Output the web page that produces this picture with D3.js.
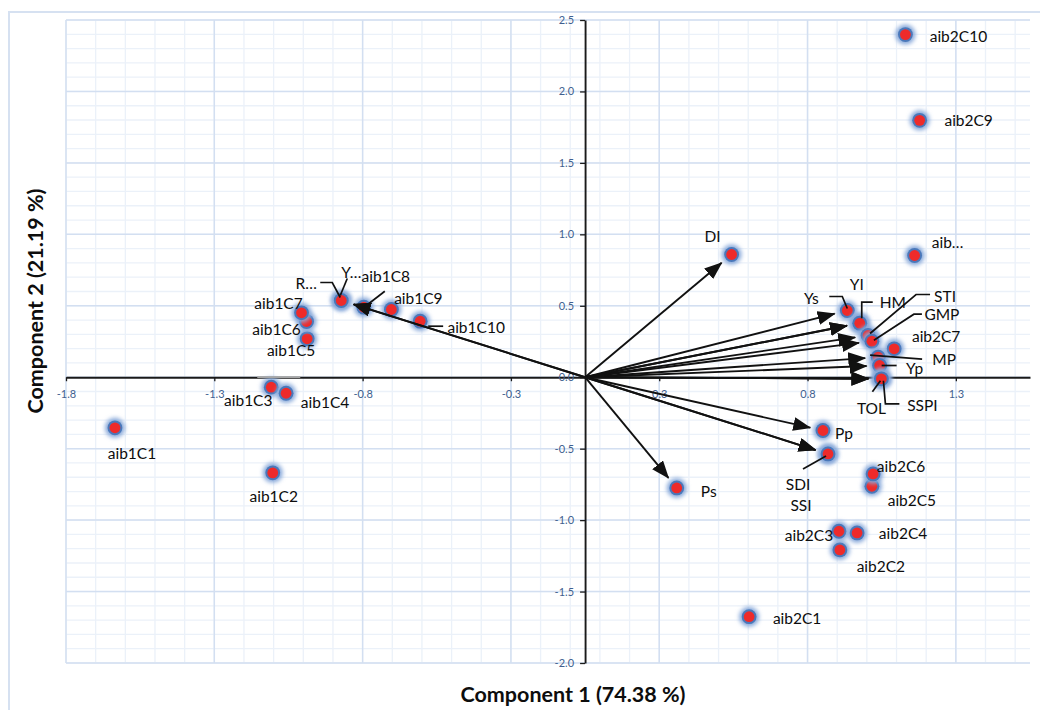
<!DOCTYPE html>
<html><head><meta charset="utf-8">
<script src="https://cdn.jsdelivr.net/npm/d3@7/dist/d3.min.js"></script>
<style>
html,body{margin:0;padding:0;background:#fff;}
svg{display:block;font-family:Lato,"Open Sans",sans-serif;}
</style></head>
<body><svg id="c" width="1040" height="710"></svg>
<script>
// ---------- data ----------
const sampleNames = ["aib1C1","aib1C2","aib1C3","aib1C4","aib1C5","aib1C6","aib1C7","aib1C8","aib1C9","aib1C10",
  "aib2C1","aib2C2","aib2C3","aib2C4","aib2C5","aib2C6","aib2C7","aib…","aib2C9","aib2C10"];
const sampleX = [-1.585,-1.053,-1.058,-1.008,-0.937,-0.939,-0.956,-0.746,-0.653,-0.556,
  0.553,0.859,0.856,0.917,0.967,0.971,1.042,1.111,1.128,1.080];
const sampleY = [-0.354,-0.669,-0.070,-0.112,0.269,0.390,0.451,0.490,0.474,0.392,
  -1.676,-1.209,-1.078,-1.090,-0.763,-0.677,0.199,0.852,1.798,2.398];

const varNames = ["DI","Ys","YI","HM","STI","GMP","MP","Yp","TOL","SSPI","Pp","SDI","SSI","Ps","R…","Y…"];
const varX = [0.494,0.884,0.926,0.926,0.954,0.967,0.988,0.993,0.999,0.999,0.802,0.819,0.819,0.309,-0.822,-0.822];
const varY = [0.859,0.467,0.378,0.378,0.292,0.252,0.140,0.082,-0.011,-0.011,-0.373,-0.537,-0.537,-0.775,0.537,0.537];

const xTickValues = [-1.75,-1.25,-0.75,-0.25,0.25,0.75,1.25];
const xTickLabels = ["-1.8","-1.3","-0.8","-0.3","0.3","0.8","1.3"];
const yTickValues = [-2.0,-1.5,-1.0,-0.5,0.0,0.5,1.0,1.5,2.0,2.5];
const yTickLabels = ["-2.0","-1.5","-1.0","-0.5","0.0","0.5","1.0","1.5","2.0","2.5"];

const xTitle = "Component 1 (74.38 %)";
const yTitle = "Component 2 (21.19 %)";

// ---------- layout (label offsets in px relative to marker) ----------
const sampleLabelOffsets = {
  "aib1C1":[17,25],"aib1C2":[1,23],"aib1C3":[-23,13],"aib1C4":[39,9],"aib1C5":[-16,11],
  "aib1C6":[-30,8],"aib1C7":[-23,-10],"aib1C8":[22,-31],"aib1C9":[27,-11],"aib1C10":[56,6],
  "aib2C1":[48,1],"aib2C2":[41,16],"aib2C3":[-30,4],"aib2C4":[46,0],"aib2C5":[40,14],
  "aib2C6":[28,-8],"aib2C7":[42,-13],"aib…":[33,-13],"aib2C9":[49,0],"aib2C10":[53,1]
};
const sampleLeaders = {
  "aib1C8":[[21,-16],[-1,1]],
  "aib1C10":[[8,5],[23,5]]
};
const sampleGrayLeaders = {"aib1C3":[[-14,-10],[29,-10]]};
const varLabelOffsets = {
  "DI":[-19,-18],"Ys":[-36,-12],"YI":[-3,-39],"HM":[33,-21],"STI":[77,-39],"GMP":[70,-27],
  "MP":[66,2],"Yp":[35,2],"TOL":[-10,29],"SSPI":[41,26],"Pp":[21,2],"SDI":[-30,30],
  "SSI":[-27,51],"Ps":[32,3],"R…":[-35,-17],"Y…":[10,-28]
};
const varLeaders = {
  "Ys":[[-18,-14],[-5,-14],[0,-2]],
  "HM":[[13,-21],[2,-21],[2,-5]],
  "STI":[[62,-41],[48,-41],[2,-2]],
  "GMP":[[50,-27],[42,-27],[2,-1]],
  "MP":[[-8,-2],[44,2]],
  "Yp":[[2,0],[17,0]],
  "TOL":[[-9,13],[-1,2]],
  "SSPI":[[2,2],[4,25],[18,25]],
  "SDI":[[-25,15],[-2,2]],
  "R…":[[-21,-18],[-9,-18],[-1,-3]],
  "Y…":[[6,-22],[-1,-5]]
};

// ---------- drawing ----------
const svg = d3.select("#c");
const plot = {l:66, r:1030, t:20, b:663};
const x = d3.scaleLinear().domain([-1.75,1.5]).range([plot.l, plot.r]);
const y = d3.scaleLinear().domain([-2.0,2.5]).range([plot.b, plot.t]);

const defs = svg.append("defs");
defs.append("filter").attr("id","glow").attr("x","-100%").attr("y","-100%").attr("width","300%").attr("height","300%")
  .append("feGaussianBlur").attr("stdDeviation",2);
defs.append("marker").attr("id","arr").attr("viewBox","0 0 18 14").attr("refX",17).attr("refY",7)
  .attr("markerWidth",18).attr("markerHeight",14).attr("markerUnits","userSpaceOnUse").attr("orient","auto")
  .append("path").attr("d","M0,0 L18,7 L0,14 Z").attr("fill","#111");

// chart border
svg.append("rect").attr("x",9).attr("y",12).attr("width",1060).attr("height",740)
  .attr("fill","none").attr("stroke","#d6e1f1").attr("stroke-width",2);

// minor grid
const minorX = d3.range(-1.75, 1.5001, 0.1);
const minorY = d3.range(-2.0, 2.5001, 0.1);
const g = svg.append("g");
g.selectAll(".mx").data(minorX).join("line")
  .attr("x1",d=>x(d)).attr("x2",d=>x(d)).attr("y1",plot.t).attr("y2",plot.b)
  .attr("stroke","#ebf1f9").attr("stroke-width",1.3);
g.selectAll(".my").data(minorY).join("line")
  .attr("y1",d=>y(d)).attr("y2",d=>y(d)).attr("x1",plot.l).attr("x2",plot.r)
  .attr("stroke","#ebf1f9").attr("stroke-width",1.3);
// major grid
const majorX = d3.range(-1.75, 1.5001, 0.5);
g.selectAll(".Mx").data(majorX).join("line")
  .attr("x1",d=>x(d)).attr("x2",d=>x(d)).attr("y1",plot.t).attr("y2",plot.b)
  .attr("stroke","#d3dff1").attr("stroke-width",1.5);
g.selectAll(".My").data(yTickValues).join("line")
  .attr("y1",d=>y(d)).attr("y2",d=>y(d)).attr("x1",plot.l).attr("x2",plot.r)
  .attr("stroke","#d3dff1").attr("stroke-width",1.5);

// axes through origin
const xAxis = d3.axisBottom(x).tickValues(xTickValues).tickFormat((d,i)=>xTickLabels[i]).tickSizeInner(4).tickSizeOuter(0).tickPadding(9);
const yAxis = d3.axisLeft(y).tickValues(yTickValues).tickFormat((d,i)=>yTickLabels[i]).tickSizeInner(5).tickSizeOuter(0).tickPadding(6);
const gx = svg.append("g").attr("transform",`translate(0,${y(0)})`).call(xAxis);
const gy = svg.append("g").attr("transform",`translate(${x(0)},0)`).call(yAxis);
[gx,gy].forEach(a=>{
  a.select(".domain").attr("stroke","#1a1a1a").attr("stroke-width",1.9);
  a.selectAll(".tick line").attr("stroke","#1a1a1a").attr("stroke-width",1.3);
  a.selectAll(".tick text").attr("fill","#3f5f8f").attr("font-size",11).attr("font-family","Lato, sans-serif");
});

// markers
const allPts = sampleNames.map((n,i)=>({n, x:sampleX[i], y:sampleY[i]}))
  .concat(varNames.map((n,i)=>({n, x:varX[i], y:varY[i]})));
const mk = svg.append("g");
const pg = mk.selectAll("g").data(allPts).join("g").attr("transform",d=>`translate(${x(d.x)},${y(d.y)})`);
pg.append("circle").attr("r",10).attr("fill","#88a9da").attr("filter","url(#glow)");
pg.append("circle").attr("r",7.4).attr("fill","#4a78ba");
pg.append("circle").attr("r",5.4).attr("fill","#ee2a2a");

// arrows from origin
const ox = x(0), oy = y(0);
svg.append("g").selectAll("line").data(varNames.map((n,i)=>({n,x:varX[i],y:varY[i]}))).join("line")
  .attr("x1",ox).attr("y1",oy)
  .each(function(d){
    const px=x(d.x), py=y(d.y), dx=px-ox, dy=py-oy, L=Math.hypot(dx,dy), s=(L-13)/L;
    d3.select(this).attr("x2",ox+dx*s).attr("y2",oy+dy*s);
  })
  .attr("stroke","#111").attr("stroke-width",1.9).attr("marker-end","url(#arr)");

// leaders
const lineGen = d3.line();
function drawLeaders(map, names, xs, ys, color){
  names.forEach((n,i)=>{
    if(!map[n]) return;
    const px=x(xs[i]), py=y(ys[i]);
    svg.append("path").attr("d", lineGen(map[n].map(p=>[px+p[0],py+p[1]])))
      .attr("fill","none").attr("stroke",color).attr("stroke-width",1.7);
  });
}
drawLeaders(sampleGrayLeaders, sampleNames, sampleX, sampleY, "#a6a6a6");
drawLeaders(sampleLeaders, sampleNames, sampleX, sampleY, "#111");
drawLeaders(varLeaders, varNames, varX, varY, "#111");

// labels
function drawLabels(map, names, xs, ys){
  svg.append("g").selectAll("text").data(names).join("text")
    .attr("x",(n,i)=>x(xs[i])+map[n][0]).attr("y",(n,i)=>y(ys[i])+map[n][1])
    .attr("text-anchor","middle").attr("dominant-baseline","central")
    .attr("font-size",15.5).attr("fill","#0d0d0d").text(n=>n);
}
drawLabels(sampleLabelOffsets, sampleNames, sampleX, sampleY);
drawLabels(varLabelOffsets, varNames, varX, varY);

// titles
svg.append("text").attr("x",573).attr("y",694).attr("text-anchor","middle")
  .attr("dominant-baseline","central").attr("font-weight","bold").attr("font-size",21.5).attr("fill","#0d0d0d").text(xTitle);
svg.append("text").attr("transform","translate(35,301) rotate(-90)").attr("text-anchor","middle")
  .attr("dominant-baseline","central").attr("font-weight","bold").attr("font-size",21.5).attr("fill","#0d0d0d").text(yTitle);
</script></body></html>
